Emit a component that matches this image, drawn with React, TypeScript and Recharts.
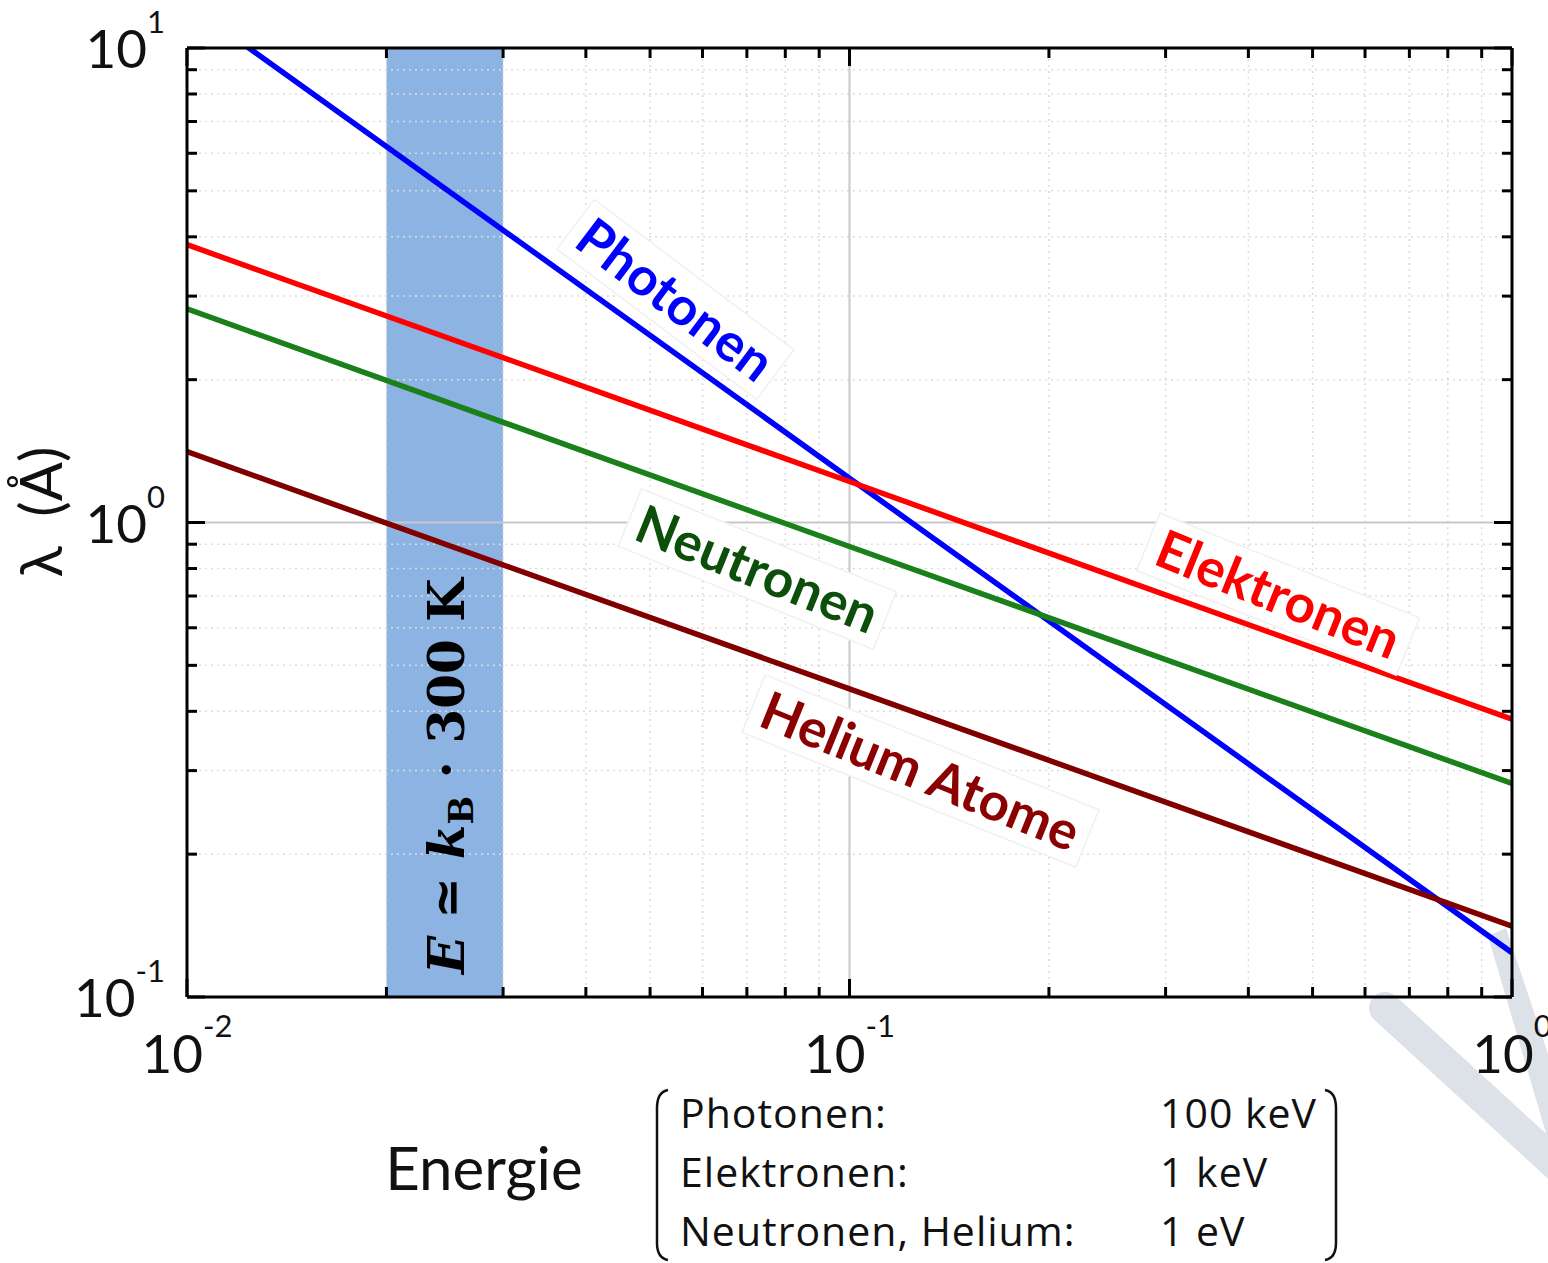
import { ComposedChart, Line, XAxis, YAxis, ReferenceArea, ReferenceLine, ReferenceDot } from 'recharts';

// wavelength (Å) vs energy (scaled)
const photonen = [
  { E: 0.01, lambda: 12.4 },
  { E: 0.1, lambda: 1.24 },
  { E: 1, lambda: 0.124 },
];
const elektronen = [
  { E: 0.01, lambda: 3.85 },
  { E: 0.1, lambda: 1.22 },
  { E: 1, lambda: 0.385 },
];
const neutronen = [
  { E: 0.01, lambda: 2.82 },
  { E: 0.1, lambda: 0.89 },
  { E: 1, lambda: 0.282 },
];
const helium = [
  { E: 0.01, lambda: 1.41 },
  { E: 0.1, lambda: 0.446 },
  { E: 1, lambda: 0.141 },
];

const thermalBand = [0.02, 0.03];

const xMajor = [0.01, 0.1, 1];
const xMajorExp = ['-2', '-1', '0'];
const xMinor = [0.02, 0.03, 0.04, 0.05, 0.06, 0.07, 0.08, 0.09, 0.2, 0.3, 0.4, 0.5, 0.6, 0.7, 0.8, 0.9];
const yMajor = [0.1, 1, 10];
const yMajorExp = ['-1', '0', '1'];
const yMinor = [0.2, 0.3, 0.4, 0.5, 0.6, 0.7, 0.8, 0.9, 2, 3, 4, 5, 6, 7, 8, 9];

const tableRows = [
  ['Photonen:', '100 keV'],
  ['Elektronen:', '1 keV'],
  ['Neutronen, Helium:', '1 eV'],
];

const SANS = 'Lato, "Open Sans", sans-serif';
const xTicks = [...xMajor, ...xMinor];
const yTicks = [...yMajor, ...yMinor];

const BottomTick = ({ x, y, payload }: any) => {
  const i = xMajor.indexOf(payload.value);
  const len = i >= 0 ? 18 : 10;
  return (
    <g>
      <line x1={x} x2={x} y1={y} y2={y - len} stroke="#000" strokeWidth={3} />
      {i >= 0 && (
        <text x={x} y={y + 76} textAnchor="middle" fontFamily={SANS} fontSize={53} fill="#111">
          10
          <tspan dy={-36} fontSize={31}>{xMajorExp[i]}</tspan>
        </text>
      )}
    </g>
  );
};

const TopTick = ({ x, y, payload }: any) => {
  const len = xMajor.includes(payload.value) ? 18 : 10;
  return <line x1={x} x2={x} y1={y} y2={y + len} stroke="#000" strokeWidth={3} />;
};

const LeftTick = ({ x, y, payload }: any) => {
  const i = yMajor.indexOf(payload.value);
  const len = i >= 0 ? 18 : 10;
  return (
    <g>
      <line x1={x} x2={x + len} y1={y} y2={y} stroke="#000" strokeWidth={3} />
      {i >= 0 && (
        <text x={x - 22} y={y + 20} textAnchor="end" fontFamily={SANS} fontSize={53} fill="#111">
          10
          <tspan dy={-35} fontSize={31}>{yMajorExp[i]}</tspan>
        </text>
      )}
    </g>
  );
};

const RightTick = ({ x, y, payload }: any) => {
  const len = yMajor.includes(payload.value) ? 18 : 10;
  return <line x1={x} x2={x - len} y1={y} y2={y} stroke="#000" strokeWidth={3} />;
};

const lineLabel = (text: string, color: string, angle: number, w: number) => (p: any) => (
  <g transform={`translate(${p.cx},${p.cy}) rotate(${angle})`}>
    <rect x={-w / 2} y={-32} width={w} height={62} fill="#fff" stroke="#f0f0f0" strokeWidth={1.5} />
    <text x={0} y={0} dy={18} textAnchor="middle" fontFamily={SANS} fontWeight={700} fontSize={53} fill={color}>
      {text}
    </text>
  </g>
);

const bandLabel = (p: any) => (
  <g transform={`translate(${p.cx},${p.cy}) rotate(-90)`}>
    <text
      x={0}
      y={0}
      dy={19}
      textAnchor="middle"
      fontFamily='"DejaVu Serif", serif'
      fontWeight={700}
      fontSize={50}
      fill="#000"
    >
      <tspan fontStyle="italic">E</tspan>
      {' ≃ '}
      <tspan fontStyle="italic">k</tspan>
      <tspan dy={9} fontSize={34}>B</tspan>
      <tspan dy={-9}>{' · 300 K'}</tspan>
    </text>
  </g>
);

export default function App() {
  return (
    <div style={{ position: 'absolute', left: 0, top: 0, width: 1548, height: 1263, background: '#fff' }}>
      {/* watermark fragment */}
      <svg width={1548} height={1263} style={{ position: 'absolute', left: 0, top: 0 }}>
        <line x1={1385} y1={1008} x2={1560} y2={1168} stroke="#dde1e8" strokeWidth={32} strokeLinecap="round" />
        <polygon points="1488,936 1506,928 1560,1090 1548,1140" fill="#dde1e8" />
      </svg>

      <div style={{ position: 'absolute', left: 0, top: 0 }}>
        <ComposedChart width={1548} height={1263} margin={{ top: 47, right: 35, bottom: 166, left: 67 }}>
          <XAxis
            dataKey="E"
            type="number"
            scale="log"
            domain={[0.01, 1]}
            allowDataOverflow
            ticks={xTicks}
            interval={0}
            height={100}
            tickSize={0}
            tickMargin={0}
            tickLine={false}
            tick={BottomTick}
            axisLine={{ stroke: '#000', strokeWidth: 3 }}
          />
          <XAxis
            xAxisId="top"
            orientation="top"
            dataKey="E"
            type="number"
            scale="log"
            domain={[0.01, 1]}
            allowDataOverflow
            ticks={xTicks}
            interval={0}
            height={1}
            tickSize={0}
            tickMargin={0}
            tickLine={false}
            tick={TopTick}
            axisLine={{ stroke: '#000', strokeWidth: 3 }}
          />
          <YAxis
            type="number"
            scale="log"
            domain={[0.1, 10]}
            allowDataOverflow
            ticks={yTicks}
            interval={0}
            width={120}
            tickSize={0}
            tickMargin={0}
            tickLine={false}
            tick={LeftTick}
            axisLine={{ stroke: '#000', strokeWidth: 3 }}
          />
          <YAxis
            yAxisId="right"
            orientation="right"
            type="number"
            scale="log"
            domain={[0.1, 10]}
            allowDataOverflow
            ticks={yTicks}
            interval={0}
            width={1}
            tickSize={0}
            tickMargin={0}
            tickLine={false}
            tick={RightTick}
            axisLine={{ stroke: '#000', strokeWidth: 3 }}
          />

          {xMinor.map((v) => (
            <ReferenceLine key={`gx${v}`} x={v} stroke="#dcdcdc" strokeWidth={1.5} strokeDasharray="2 4" />
          ))}
          {yMinor.map((v) => (
            <ReferenceLine key={`gy${v}`} y={v} stroke="#dcdcdc" strokeWidth={1.5} strokeDasharray="2 4" />
          ))}
          <ReferenceLine x={0.1} stroke="#c8c8c8" strokeWidth={2} />
          <ReferenceLine y={1} stroke="#c8c8c8" strokeWidth={2} />

          <ReferenceArea x1={thermalBand[0]} x2={thermalBand[1]} fill="#8db3e2" fillOpacity={1} stroke="none" />

          <ReferenceDot x={0.0545} y={2.94} r={0} ifOverflow="visible" shape={lineLabel('Photonen', '#0000ff', 37, 250)} />
          <ReferenceDot x={0.443} y={0.703} r={0} ifOverflow="visible" shape={lineLabel('Elektronen', '#ff0000', 22, 280)} />
          <ReferenceDot x={0.0725} y={0.794} r={0} ifOverflow="visible" shape={lineLabel('Neutronen', '#0b4f0b', 22, 275)} />
          <ReferenceDot x={0.1278} y={0.298} r={0} ifOverflow="visible" shape={lineLabel('Helium Atome', '#8b0000', 22, 360)} />
          <ReferenceDot x={0.0245} y={0.292} r={0} ifOverflow="visible" shape={bandLabel} />

          <Line data={photonen} dataKey="lambda" stroke="#0000ff" strokeWidth={5.5} dot={false} type="linear" isAnimationActive={false} />
          <Line data={elektronen} dataKey="lambda" stroke="#ff0000" strokeWidth={5.5} dot={false} type="linear" isAnimationActive={false} />
          <Line data={neutronen} dataKey="lambda" stroke="#1a801a" strokeWidth={5.5} dot={false} type="linear" isAnimationActive={false} />
          <Line data={helium} dataKey="lambda" stroke="#800000" strokeWidth={5.5} dot={false} type="linear" isAnimationActive={false} />
        </ComposedChart>
      </div>

      {/* axis titles and energy table */}
      <svg width={1548} height={1263} style={{ position: 'absolute', left: 0, top: 0, pointerEvents: 'none' }}>
        <text
          transform="translate(62,512) rotate(-90)"
          textAnchor="middle"
          fontFamily={SANS}
          fontSize={58}
          fill="#111"
        >
          {'λ\u00a0\u00a0(Å)'}
        </text>
        <text x={484} y={1190} textAnchor="middle" fontFamily={SANS} fontSize={60} fill="#111">
          Energie
        </text>
        <path d="M668,1090 Q657,1092 657,1108 L657,1243 Q657,1258 668,1260" fill="none" stroke="#111" strokeWidth={2.5} />
        <path d="M1325,1090 Q1336,1092 1336,1108 L1336,1243 Q1336,1258 1325,1260" fill="none" stroke="#111" strokeWidth={2.5} />
        {tableRows.map((r, i) => (
          <g key={r[0]} fontFamily='"Open Sans", sans-serif' fontSize={41} letterSpacing={1} fill="#111">
            <text x={680} y={1128 + i * 59}>{r[0]}</text>
            <text x={1160} y={1128 + i * 59}>{r[1]}</text>
          </g>
        ))}
      </svg>
    </div>
  );
}
